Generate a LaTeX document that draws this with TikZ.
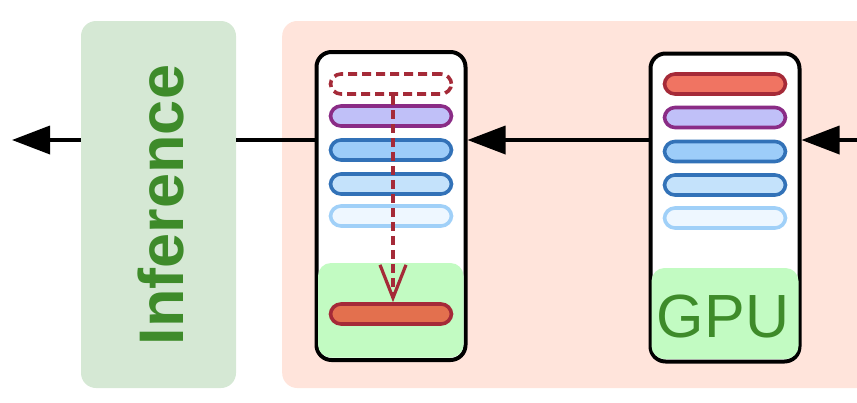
\documentclass[tikz,border=0pt]{standalone}
\usepackage{fontspec}
\setmainfont{Liberation Sans}
\usetikzlibrary{arrows.meta}
\definecolor{infbg}{HTML}{D5E8D4}
\definecolor{inftxt}{HTML}{3E8B2A}
\definecolor{pinkbg}{HTML}{FFE4DB}
\definecolor{gpubg}{HTML}{C2FBC2}
\definecolor{redfill}{HTML}{F07462}
\definecolor{redline}{HTML}{A52A38}
\definecolor{orfill}{HTML}{E3704E}
\definecolor{purfill}{HTML}{C0C0F8}
\definecolor{purline}{HTML}{8A2C86}
\definecolor{bluefillA}{HTML}{9DCDF9}
\definecolor{bluefillB}{HTML}{C4E2FB}
\definecolor{blueline}{HTML}{3272B8}
\definecolor{palefill}{HTML}{EEF7FF}
\definecolor{paleline}{HTML}{A0D0F8}
\tikzset{
  card/.style={draw=black, line width=4pt, fill=white, rounded corners=15pt, minimum width=149pt, minimum height=308pt, inner sep=0pt},
  bar/.style={rounded corners=10.5pt, line width=3.6pt, minimum width=121pt, minimum height=20pt, inner sep=0pt},
  barred/.style={bar, draw=redline, fill=redfill},
  barorange/.style={bar, draw=redline, fill=orfill},
  barpur/.style={bar, draw=purline, fill=purfill},
  barblueA/.style={bar, draw=blueline, fill=bluefillA},
  barblueB/.style={bar, draw=blueline, fill=bluefillB},
  barpale/.style={bar, draw=paleline, fill=palefill},
  bardash/.style={bar, draw=redline, dash pattern=on 9pt off 5pt},
  flow/.style={line width=3.6pt, draw=black},
  flowarrow/.style={flow, -{Triangle[length=38pt,width=28pt]}},
}
\begin{document}
\begin{tikzpicture}[x=1pt,y=-1pt]
\useasboundingbox (0,0) rectangle (857,402);
% backgrounds
\node[fill=infbg, rounded corners=15pt, minimum width=155pt, minimum height=367pt, inner sep=0pt] (inf) at (158.5,204.5) {};
\node[fill=pinkbg, rounded corners=15pt, minimum width=600pt, minimum height=367pt, inner sep=0pt, anchor=west] (pink) at (282,204.5) {};
\node[rotate=90, inner sep=0pt, text=inftxt, font=\fontsize{63}{63}\selectfont\bfseries] (inftext) at (161,205) {Inference};
% cards
\node[card] (card1) at (391,206) {};
\node[card] (card2) at (725,207.5) {};
% green areas
\fill[gpubg, rounded corners=13pt] (318,263) rectangle (463.5,357.5);
\fill[gpubg, rounded corners=13pt] (651.5,268) rectangle (798.5,359);
\node[inner sep=0pt, text=inftxt, font=\fontsize{61}{61}\selectfont] (gpu) at (723,316) {GPU};
% bars card1
\node[bardash] (b11) at (391,84) {};
\node[barpur] (b12) at (391,116) {};
\node[barblueA] (b13) at (391,150) {};
\node[barblueB] (b14) at (391,184) {};
\node[barpale] (b15) at (391,216) {};
\node[barorange] (b16) at (391,314) {};
% bars card2
\node[barred] (b21) at (725,84) {};
\node[barpur] (b22) at (725,117.5) {};
\node[barblueA] (b23) at (725,151.5) {};
\node[barblueB] (b24) at (725,185) {};
\node[barpale] (b25) at (725,218) {};
% dashed arrow
\draw[redline, line width=3.2pt, dash pattern=on 9pt off 5pt, -{Straight Barb[length=33pt,width=26pt,line width=3.2pt]}] ([xshift=2pt]b11.south) -- ([xshift=2pt]b16.north);
% connectors
\coordinate (rin) at (857,140);
\coordinate (out) at (12,140);
\draw[flowarrow] (rin) -- (rin -| card2.east);
\draw[flowarrow] (rin -| card2.west) -- (rin -| card1.east);
\draw[flow] (rin -| card1.west) -- (rin -| inf.east);
\draw[flowarrow] (rin -| inf.west) -- (out);
\end{tikzpicture}
\end{document}
